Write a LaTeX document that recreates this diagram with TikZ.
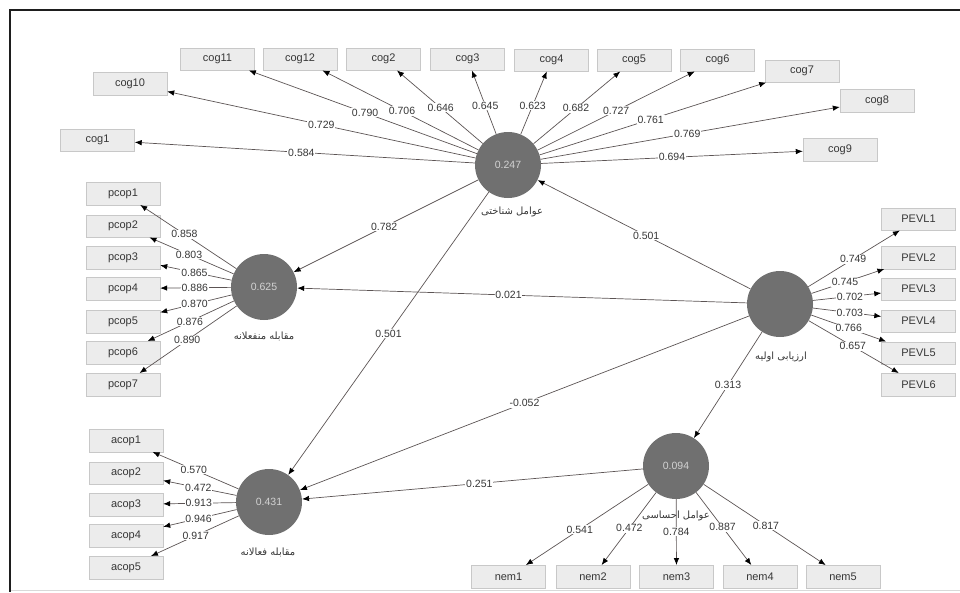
\documentclass[tikz,border=0pt]{standalone}
\usepackage{fontspec}
\setmainfont{Liberation Sans}
\newfontfamily\arabicfont[Script=Arabic]{DejaVu Sans}
\TeXXeTstate=1
\usetikzlibrary{arrows.meta}
\definecolor{linec}{RGB}{92,84,84}
\definecolor{boxfill}{RGB}{236,236,236}
\definecolor{boxborder}{RGB}{200,200,200}
\definecolor{circfill}{RGB}{112,112,112}
\definecolor{circtext}{RGB}{210,210,210}
\definecolor{textc}{RGB}{55,55,55}
\definecolor{framec}{RGB}{30,30,30}
\tikzset{
  ind/.style={draw=boxborder, fill=boxfill, minimum width=74pt, minimum height=22.5pt, inner sep=0pt,
    font=\fontsize{11}{12}\selectfont, text=textc},
  lv/.style={circle, fill=circfill, minimum size=66pt, inner sep=0pt, text=circtext,
    font=\fontsize{10.5}{12}\selectfont},
  arr/.style={draw=linec, line width=0.7pt, -{Latex[length=7pt,width=5.5pt,color=black]}},
  lab/.style={fill=white, inner sep=0.8pt, text=textc, font=\fontsize{10.5}{12}\selectfont},
  lvname/.style={text=textc, inner sep=0pt, font=\arabicfont\fontsize{10}{12}\selectfont}
}
\begin{document}
\begin{tikzpicture}[x=1pt,y=-1pt]
\useasboundingbox (0,0) rectangle (960,592);
\draw[line width=1.6pt, framec] (960,10) -- (10,10) -- (10,592);
\draw[line width=0.6pt, black!15] (11,590) -- (960,590);

% latent variables
\node[lv] (cog) at (508,165) {0.247};
\node[lv] (pcop) at (264,287) {0.625};
\node[lv] (pevl) at (780,304) {};
\node[lv] (acop) at (269,502) {0.431};
\node[lv] (nem) at (676,466) {0.094};

\node[lvname] (cogname) at (512,212) {\beginR عوامل شناختی\endR};
\node[lvname] (pcopname) at (264,336) {\beginR مقابله منفعلانه\endR};
\node[lvname] (pevlname) at (781,357) {\beginR ارزیابی اولیه\endR};
\node[lvname] (acopname) at (268,552) {\beginR مقابله فعالانه\endR};

% cog indicators
\node[ind] (cog11) at (217.5,59) {cog11};
\node[ind] (cog12) at (300,59) {cog12};
\node[ind] (cog2) at (383.5,59) {cog2};
\node[ind] (cog3) at (467.5,59) {cog3};
\node[ind] (cog4) at (551.5,60) {cog4};
\node[ind] (cog5) at (634,60) {cog5};
\node[ind] (cog6) at (717.5,60) {cog6};
\node[ind] (cog7) at (802,71) {cog7};
\node[ind] (cog8) at (877,100.5) {cog8};
\node[ind] (cog9) at (840,149.5) {cog9};
\node[ind] (cog10) at (130,83.5) {cog10};
\node[ind] (cog1) at (97.5,140) {cog1};

% pcop indicators
\node[ind] (pcop1) at (123,193.5) {pcop1};
\node[ind] (pcop2) at (123,226) {pcop2};
\node[ind] (pcop3) at (123,257.5) {pcop3};
\node[ind] (pcop4) at (123,288.5) {pcop4};
\node[ind] (pcop5) at (123,321.5) {pcop5};
\node[ind] (pcop6) at (123,352.5) {pcop6};
\node[ind] (pcop7) at (123,384.5) {pcop7};

% PEVL indicators
\node[ind] (pevl1) at (918.5,219) {PEVL1};
\node[ind] (pevl2) at (918.5,257.5) {PEVL2};
\node[ind] (pevl3) at (918.5,289) {PEVL3};
\node[ind] (pevl4) at (918.5,321) {PEVL4};
\node[ind] (pevl5) at (918.5,353) {PEVL5};
\node[ind] (pevl6) at (918.5,384.5) {PEVL6};

% acop indicators
\node[ind] (acop1) at (126,440.5) {acop1};
\node[ind] (acop2) at (126,473) {acop2};
\node[ind] (acop3) at (126,504.5) {acop3};
\node[ind] (acop4) at (126,535.5) {acop4};
\node[ind] (acop5) at (126,567.5) {acop5};

% nem indicators
\node[ind] (nem1) at (508.5,576.5) {nem1};
\node[ind] (nem2) at (593,576.5) {nem2};
\node[ind] (nem3) at (676.5,576.5) {nem3};
\node[ind] (nem4) at (760,576.5) {nem4};
\node[ind] (nem5) at (843,576.5) {nem5};

% cog loadings
\draw[arr] (cog) -- node[lab,pos=.51]{0.584} (cog1);
\draw[arr] (cog) -- node[lab,pos=.50]{0.729} (cog10);
\draw[arr] (cog) -- node[lab,pos=.49]{0.790} (cog11);
\draw[arr] (cog) -- node[lab,pos=.49]{0.706} (cog12);
\draw[arr] (cog) -- node[lab,pos=.49]{0.646} (cog2);
\draw[arr] (cog) -- node[lab,pos=.45]{0.645} (cog3);
\draw[arr] (cog) -- node[lab,pos=.46]{0.623} (cog4);
\draw[arr] (cog) -- node[lab,pos=.49]{0.682} (cog5);
\draw[arr] (cog) -- node[lab,pos=.50]{0.727} (cog6);
\draw[arr] (cog) -- node[lab,pos=.49]{0.761} (cog7);
\draw[arr] (cog) -- node[lab,pos=.49]{0.769} (cog8);
\draw[arr] (cog) -- node[lab,pos=.50]{0.694} (cog9);

% pcop loadings
\draw[arr] (pcop) -- node[lab,pos=.54]{0.858} (pcop1);
\draw[arr] (pcop) -- node[lab,pos=.53]{0.803} (pcop2);
\draw[arr] (pcop) -- node[lab,pos=.52]{0.865} (pcop3);
\draw[arr] (pcop) -- node[lab,pos=.51]{0.886} (pcop4);
\draw[arr] (pcop) -- node[lab,pos=.52]{0.870} (pcop5);
\draw[arr] (pcop) -- node[lab,pos=.51]{0.876} (pcop6);
\draw[arr] (pcop) -- node[lab,pos=.51]{0.890} (pcop7);

% PEVL loadings
\draw[arr] (pevl) -- node[lab,pos=.49]{0.749} (pevl1);
\draw[arr] (pevl) -- node[lab,pos=.46]{0.745} (pevl2);
\draw[arr] (pevl) -- node[lab,pos=.54]{0.702} (pevl3);
\draw[arr] (pevl) -- node[lab,pos=.54]{0.703} (pevl4);
\draw[arr] (pevl) -- node[lab,pos=.50]{0.766} (pevl5);
\draw[arr] (pevl) -- node[lab,pos=.49]{0.657} (pevl6);

% acop loadings
\draw[arr] (acop) -- node[lab,pos=.52]{0.570} (acop1);
\draw[arr] (acop) -- node[lab,pos=.52]{0.472} (acop2);
\draw[arr] (acop) -- node[lab,pos=.51]{0.913} (acop3);
\draw[arr] (acop) -- node[lab,pos=.52]{0.946} (acop4);
\draw[arr] (acop) -- node[lab,pos=.49]{0.917} (acop5);

% nem loadings
\draw[arr] (nem) -- node[lab,pos=.56]{0.541} (nem1);
\draw[arr] (nem) -- node[lab,pos=.49]{0.472} (nem2);
\draw[arr] (nem) -- node[lab,pos=.49]{0.784} (nem3);
\draw[arr] (nem) -- node[lab,pos=.48]{0.887} (nem4);
\draw[arr] (nem) -- node[lab,pos=.51]{0.817} (nem5);

% structural paths
\draw[arr] (pevl) -- node[lab,pos=.49]{0.501} (cog);
\draw[arr] (pevl) -- node[lab,pos=.53]{0.021} (pcop);
\draw[arr] (pevl) -- node[lab,pos=.50]{-0.052} (acop);
\draw[arr] (pevl) -- node[lab,pos=.50]{0.313} (nem);
\draw[arr] (cog) -- node[lab,pos=.51]{0.782} (pcop);
\draw[arr] (cog) -- node[lab,pos=.50]{0.501} (acop);
\draw[arr] (nem) -- node[lab,pos=.48]{0.251} (acop);

\node[lvname] (nemname) at (676,516) {\beginR عوامل احساسی\endR};
\end{tikzpicture}
\end{document}
